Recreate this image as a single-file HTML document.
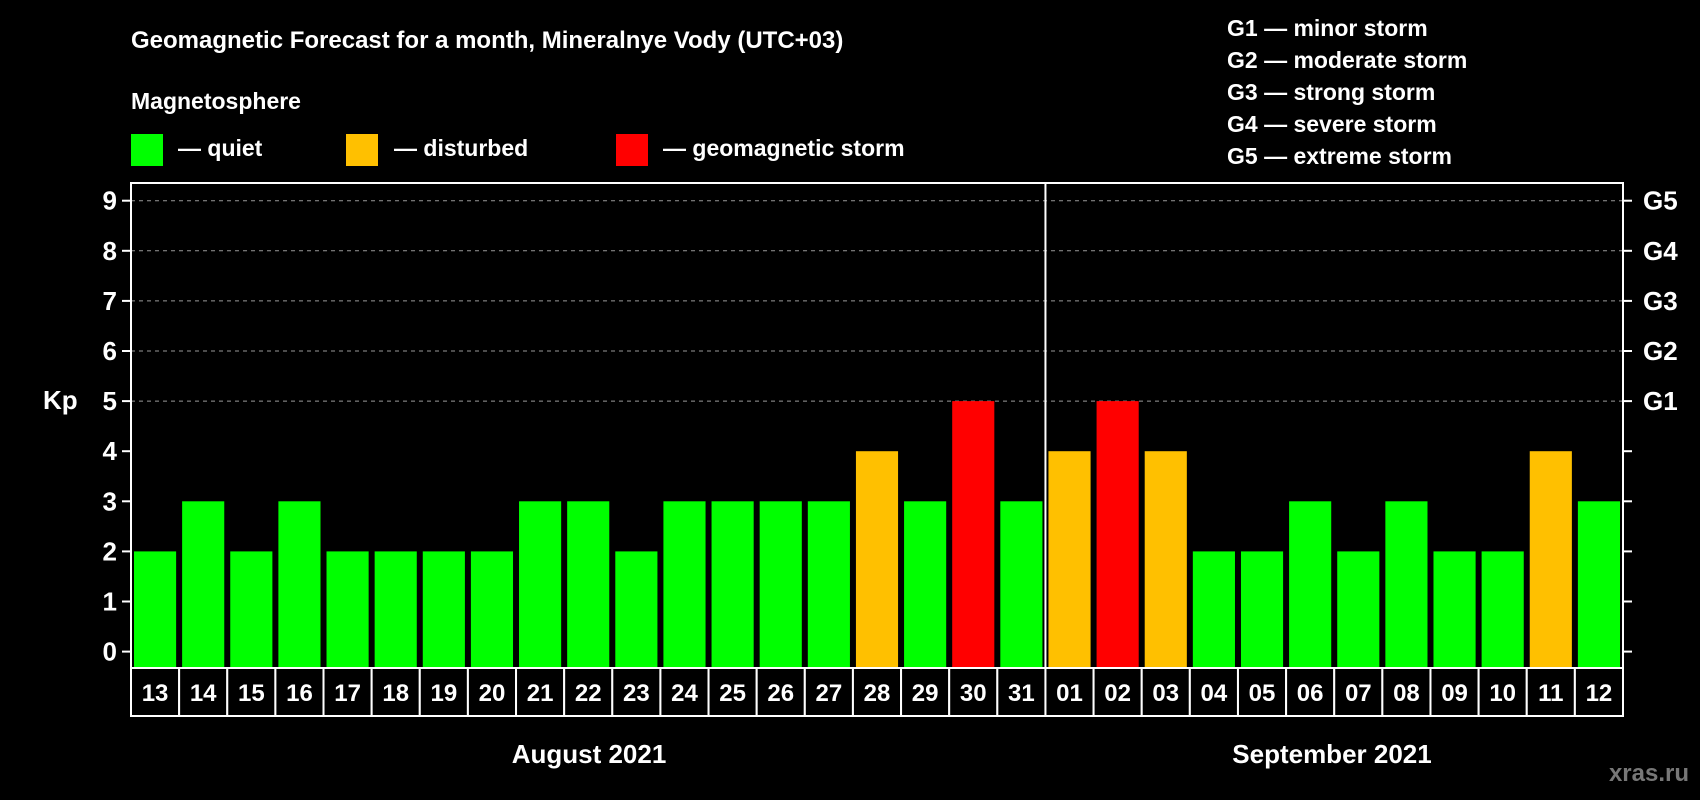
<!DOCTYPE html>
<html><head><meta charset="utf-8"><style>
html,body{margin:0;padding:0;background:#000;}
svg{display:block;font-family:"Liberation Sans",Arial,sans-serif;font-weight:bold;}
</style></head><body>
<svg id="chart" width="1700" height="800" viewBox="0 0 1700 800">
<rect width="1700" height="800" fill="#000"/>
<text x="131" y="48" fill="#fff" font-size="24">Geomagnetic Forecast for a month, Mineralnye Vody (UTC+03)</text>
<text x="131" y="109" fill="#fff" font-size="23">Magnetosphere</text>
<g><rect x="131" y="134" width="32" height="32" fill="#00ff00"/><text x="178" y="156" fill="#fff" font-size="23">— quiet</text></g>
<g><rect x="346" y="134" width="32" height="32" fill="#ffc000"/><text x="394" y="156" fill="#fff" font-size="23">— disturbed</text></g>
<g><rect x="616" y="134" width="32" height="32" fill="#ff0000"/><text x="663" y="156" fill="#fff" font-size="23">— geomagnetic storm</text></g>
<g fill="#fff" font-size="23">
<text x="1227" y="36">G1 — minor storm</text>
<text x="1227" y="68">G2 — moderate storm</text>
<text x="1227" y="100">G3 — strong storm</text>
<text x="1227" y="132">G4 — severe storm</text>
<text x="1227" y="164">G5 — extreme storm</text>
</g>
<g id="grid"></g><g id="bars"></g><g id="axes"></g>
<text x="43" y="409" fill="#fff" font-size="26">Kp</text>
<text x="589" y="763" fill="#fff" font-size="26" text-anchor="middle">August 2021</text>
<text x="1332" y="763" fill="#fff" font-size="26" text-anchor="middle">September 2021</text>
<text x="1689" y="781" fill="#777" font-size="24" text-anchor="end">xras.ru</text>
</svg>
<script>
const days=["13","14","15","16","17","18","19","20","21","22","23","24","25","26","27","28","29","30","31","01","02","03","04","05","06","07","08","09","10","11","12"];
const kp=[2,3,2,3,2,2,2,2,3,3,2,3,3,3,3,4,3,5,3,4,5,4,2,2,3,2,3,2,2,4,3];
const yTicks=[0,1,2,3,4,5,6,7,8,9];
const gLabels=["G1","G2","G3","G4","G5"];
const NS="http://www.w3.org/2000/svg";
const L=131,R=1623,T=183,B=668,y0=651.6,unit=50.1;
const cw=(R-L)/days.length;
const ys=v=>y0-v*unit;
const xs=i=>L+i*cw;
function mk(t,a,p){const e=document.createElementNS(NS,t);for(const k in a)e.setAttribute(k,a[k]);p.appendChild(e);return e;}
const grid=document.getElementById('grid'),bars=document.getElementById('bars'),axes=document.getElementById('axes');
yTicks.forEach(v=>{
  if(v>=5){const g=mk('line',{x1:L,x2:R,y1:ys(v),y2:ys(v),stroke:'#999','stroke-width':1,'stroke-dasharray':'4,4'},grid);
  
  }
  const t1=mk('line',{x1:L-9,x2:L,y1:ys(v),y2:ys(v),stroke:'#fff','stroke-width':2},axes);
  
  
  const t2=mk('line',{x1:R,x2:R+9,y1:ys(v),y2:ys(v),stroke:'#fff','stroke-width':2},axes);
  
  
  const lb=mk('text',{x:L-14,y:ys(v)+9,fill:'#fff','font-size':26,'text-anchor':'end'},axes);lb.textContent=v;
  
  
});
gLabels.forEach((g,i)=>{const t=mk('text',{x:R+20,y:ys(5+i)+9,fill:'#fff','font-size':26},axes);t.textContent=g;
  
  });
kp.forEach((v,i)=>{
  const c=v>=5?'#ff0000':(v>=4?'#ffc000':'#00ff00');
  const r=mk('rect',{x:xs(i)+3,y:ys(v),width:cw-6,height:B-ys(v),fill:c},bars);
  
  
  const b=mk('rect',{x:xs(i),y:B,width:cw,height:48,fill:'#000',stroke:'#fff','stroke-width':2},axes);
  
  
  const t=mk('text',{x:xs(i)+cw/2,y:B+33,fill:'#fff','font-size':24,'text-anchor':'middle'},axes);t.textContent=days[i];
  
  
});
const fr=mk('rect',{x:L,y:T,width:R-L,height:B-T,fill:'none',stroke:'#fff','stroke-width':2},axes);


const di=days.indexOf("01");
const dv=mk('line',{x1:xs(di),x2:xs(di),y1:T,y2:B,stroke:'#fff','stroke-width':2},axes);


</script>
</body></html>
